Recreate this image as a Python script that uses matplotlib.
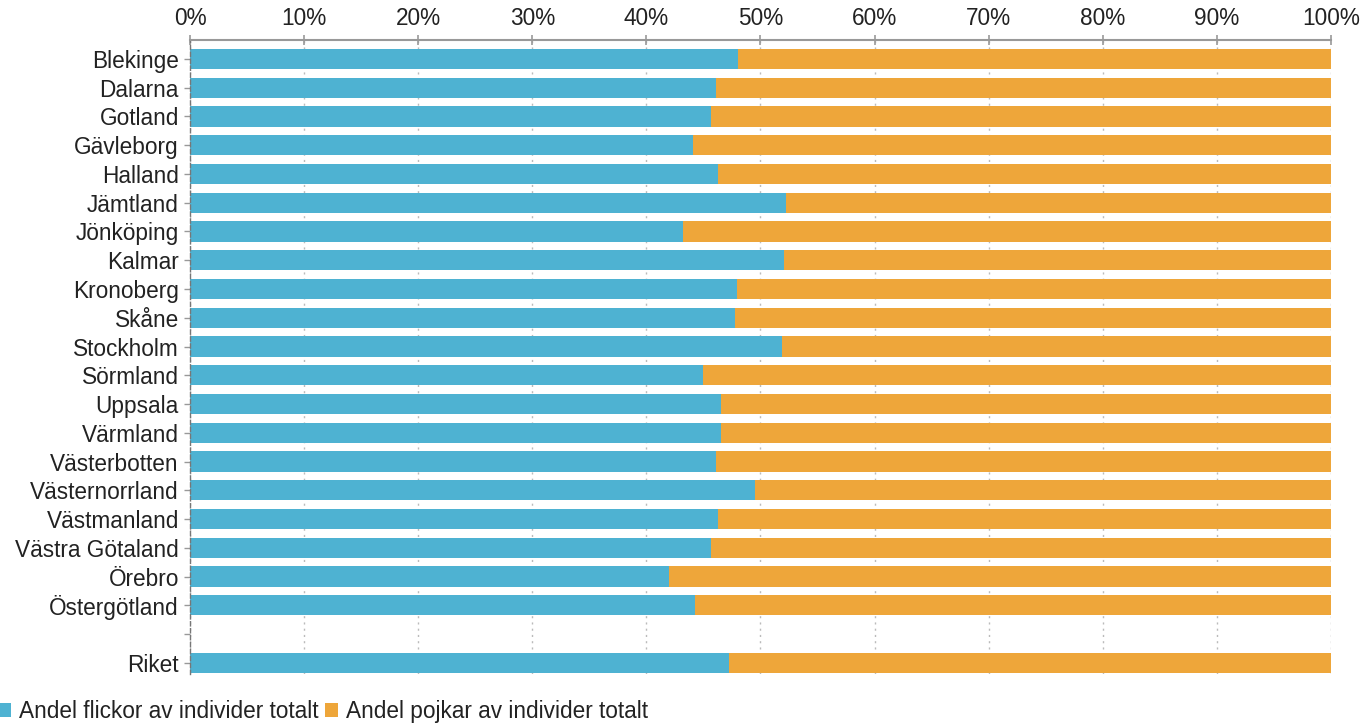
import matplotlib
matplotlib.use("Agg")
import matplotlib.pyplot as plt
from matplotlib.patches import Patch

plt.rcParams['font.family'] = ['Liberation Sans', 'DejaVu Sans']

categories = ["Blekinge", "Dalarna", "Gotland", "Gävleborg", "Halland", "Jämtland",
              "Jönköping", "Kalmar", "Kronoberg", "Skåne", "Stockholm", "Sörmland",
              "Uppsala", "Värmland", "Västerbotten", "Västernorrland", "Västmanland",
              "Västra Götaland", "Örebro", "Östergötland", "", "Riket"]
flickor = [48.0, 46.1, 45.7, 44.1, 46.3, 52.2, 43.2, 52.1, 47.9, 47.8, 51.9, 45.0,
           46.5, 46.5, 46.1, 49.5, 46.3, 45.7, 42.0, 44.3, None, 47.2]
series_names = ["Andel flickor av individer totalt", "Andel pojkar av individer totalt"]
xticklabels = ["0%", "10%", "20%", "30%", "40%", "50%", "60%", "70%", "80%", "90%", "100%"]

blue = "#4EB2D2"
orange = "#EEA63A"

fig = plt.figure(figsize=(13.63, 7.24), dpi=100)
ax = fig.add_axes([0.1394, 0.069, 0.8371, 0.8758])

ys, fv, pv = [], [], []
for i, v in enumerate(flickor):
    if v is None:
        continue
    ys.append(i)
    fv.append(v)
    pv.append(100 - v)

ax.barh(ys, fv, height=0.7, color=blue, zorder=2)
ax.barh(ys, pv, left=fv, height=0.7, color=orange, zorder=2)

ax.set_xlim(0, 100)
ax.set_ylim(21.39, -0.66)
ax.set_xticks(range(0, 101, 10))
ax.set_xticklabels(xticklabels)
ax.xaxis.tick_top()
ax.set_yticks(range(len(categories)))
ax.set_yticklabels(categories)
ax.tick_params(axis='x', which='both', direction='inout', length=7, width=1.2,
               color='#999999', labelsize=16.3, labelcolor='#222222', pad=4, bottom=False)
ax.tick_params(axis='y', direction='out', length=4, width=1, color='#999999',
               labelsize=16.3, labelcolor='#222222', pad=4)
ax.grid(axis='x', color='#bbbbbb', linestyle=(0, (1.5, 3)), linewidth=1, zorder=0)
ax.set_axisbelow(True)
for s in ['right', 'bottom']:
    ax.spines[s].set_visible(False)
ax.spines['top'].set_color('#999999')
ax.spines['top'].set_linewidth(1.5)
ax.spines['left'].set_color('#777777')
ax.spines['left'].set_linestyle((0, (3, 2)))
ax.spines['left'].set_linewidth(1)

handles = [Patch(facecolor=blue), Patch(facecolor=orange)]
fig.legend(handles, series_names, loc='lower left', bbox_to_anchor=(-0.016, -0.027),
           ncol=2, frameon=False, fontsize=16.3, handlelength=0.55, handleheight=0.55,
           handletextpad=0.35, columnspacing=0.3, labelcolor='#222222')

fig.savefig("out.png", dpi=100)
